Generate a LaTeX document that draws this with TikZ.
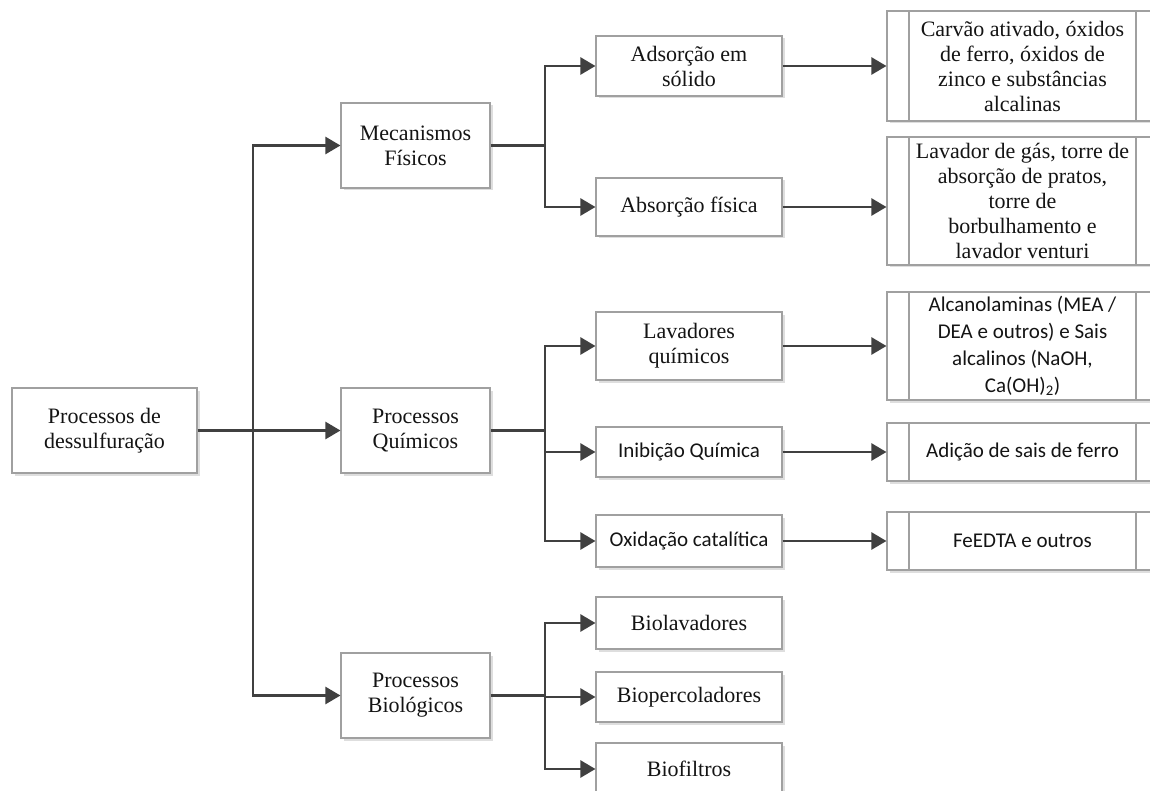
\documentclass[tikz,border=0pt]{standalone}
\usepackage{fontspec}
\setmainfont{Liberation Serif}
\newfontfamily\sansf{Carlito}
\usetikzlibrary{arrows.meta,shadows}

\definecolor{boxgray}{RGB}{160,160,160}
\definecolor{linegray}{RGB}{64,64,64}
\definecolor{txt}{RGB}{20,20,20}

\begin{document}
\begin{tikzpicture}[x=1pt,y=-1pt,
  box/.style={rectangle, draw=boxgray, line width=1.1pt, fill=white, inner sep=0pt,
    align=center, text=txt,
    drop shadow={shadow xshift=2.5pt,shadow yshift=-2.5pt,fill=black!13,opacity=1},
    font=\fontsize{22}{25}\selectfont},
  sbox/.style={box, font=\sansf\fontsize{21}{27}\selectfont},
  midbox/.style={minimum width=149pt, minimum height=85pt},
  subbox/.style={minimum width=186pt},
  rbox/.style={minimum width=271pt,
    path picture={
      \draw[boxgray, line width=1.1pt]
        ([xshift=22pt]path picture bounding box.north west) --
        ([xshift=22pt]path picture bounding box.south west);
      \draw[boxgray, line width=1.1pt]
        ([xshift=-22pt]path picture bounding box.north east) --
        ([xshift=-22pt]path picture bounding box.south east);}},
  conn/.style={draw=linegray, line width=2.5pt},
  arr/.style={conn, -{Triangle[length=15pt,width=17pt]}},
]
\clip (0,0) rectangle (1150,791);
\useasboundingbox (0,0) rectangle (1150,791);

% root
\node[box, minimum width=185pt, minimum height=85pt] (root) at (104.5,430.5) {Processos de\\dessulfuração};

% main groups
\node[box, midbox] (mec) at (415.5,145.5) {Mecanismos\\Físicos};
\node[box, midbox] (qui) at (415.5,430.5) {Processos\\Químicos};
\node[box, midbox] (bio) at (415.5,695.5) {Processos\\Biológicos};

% techniques
\node[box, subbox, minimum height=60pt] (ads) at (689,66) {Adsorção em\\sólido};
\node[box, subbox, minimum height=58pt] (abs) at (689,207) {Absorção física};
\node[box, subbox, minimum height=68pt] (lav) at (689,346) {Lavadores\\químicos};
\node[sbox, subbox, minimum height=50pt] (ini) at (689,452) {Inibição Química};
\node[sbox, subbox, minimum height=52pt] (oxi) at (689,541) {Oxidação catalítica};
\node[box, subbox, minimum height=52pt] (biol) at (689,623) {Biolavadores};
\node[box, subbox, minimum height=50pt] (biop) at (689,697) {Biopercoladores};
\node[box, subbox, minimum height=52pt] (biof) at (689,769) {Biofiltros};

% examples
\node[box, rbox, minimum height=110pt] (r1) at (1022.5,66) {Carvão ativado, óxidos\\de ferro, óxidos de\\zinco e substâncias\\alcalinas};
\node[box, rbox, minimum height=128pt] (r2) at (1022.5,201) {Lavador de gás, torre de\\absorção de pratos,\\torre de\\borbulhamento e\\lavador venturi};
\node[sbox, rbox, minimum height=108pt] (r3) at (1022.5,346) {Alcanolaminas (MEA /\\DEA e outros) e Sais\\alcalinos (NaOH,\\Ca(OH)\textsubscript{2})};
\node[sbox, rbox, minimum height=58pt] (r4) at (1022.5,452) {Adição de sais de ferro};
\node[sbox, rbox, minimum height=58pt] (r5) at (1022.5,541) {FeEDTA e outros};

% trunk from the root
\coordinate (t) at (253,430.5);
\draw[arr] (root.east) -- (qui.west);
\draw[arr] (t) |- (mec.west);
\draw[arr] (t) |- (bio.west);

% branches
\coordinate (bm) at (545,145.5);
\coordinate (bq) at (545,430.5);
\coordinate (bb) at (545,695.5);
\draw[conn] (mec.east) -- (bm);
\draw[conn] (qui.east) -- (bq);
\draw[conn] (bio.east) -- (bb);
\draw[arr] (bm) |- (ads.west);
\draw[arr] (bm) |- (abs.west);
\draw[arr] (bq) |- (lav.west);
\draw[arr] (bq) |- (ini.west);
\draw[arr] (bq) |- (oxi.west);
\draw[arr] (bb) |- (biol.west);
\draw[arr] (bb) |- (biop.west);
\draw[arr] (bb) |- (biof.west);

% to the examples
\draw[arr] (ads.east) -- (ads.east -| r1.west);
\draw[arr] (abs.east) -- (abs.east -| r2.west);
\draw[arr] (lav.east) -- (lav.east -| r3.west);
\draw[arr] (ini.east) -- (ini.east -| r4.west);
\draw[arr] (oxi.east) -- (oxi.east -| r5.west);
\end{tikzpicture}
\end{document}
